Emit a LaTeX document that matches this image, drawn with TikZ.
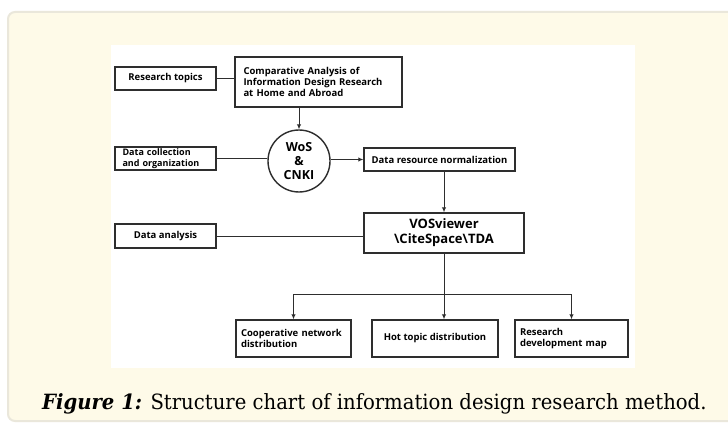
\documentclass[tikz,border=0pt]{standalone}
\usepackage{fontspec}
\usetikzlibrary{arrows.meta,shapes.geometric}
\newfontfamily\diagfont{Open Sans}
\newfontfamily\capfont{DejaVu Serif}[FakeStretch=0.935]
\definecolor{panelfill}{HTML}{FEFAE8}
\definecolor{panelrim}{HTML}{EAE7DB}
\definecolor{ink}{HTML}{2E2E2E}
\begin{document}
\begin{tikzpicture}[x=1pt,y=-1pt,
  box/.style={draw=ink,line width=1.4pt,fill=white,inner sep=0pt,
    font=\diagfont\bfseries\fontsize{9.5}{11}\selectfont,align=left},
  hub/.style={circle,draw=ink,line width=1.4pt,fill=white,minimum size=62pt,inner sep=0pt,
    font=\diagfont\bfseries\fontsize{12.5}{14}\selectfont,align=center},
  link/.style={draw=ink,line width=1pt},
  flow/.style={link,-{Latex[length=5pt,width=4.5pt]}}]
% page and panel
\useasboundingbox (0,0) rectangle (728,425);
\fill[white] (0,0) rectangle (728,425);
\draw[panelrim,fill=panelfill,line width=2pt,rounded corners=7pt] (8,12) rectangle (740,421);
\fill[white] (111,45) rectangle (635,368);
% left column
\node[box,minimum width=101pt,minimum height=23pt] (rt) at (165.5,78.5) {Research topics};
\node[box,minimum width=101pt,minimum height=23pt,text width=86pt,
  font=\diagfont\bfseries\fontsize{9}{10.5}\selectfont] (dc) at (165.5,158.5) {Data collection\\and organization};
\node[box,minimum width=101pt,minimum height=24pt] (da) at (165.5,236) {Data analysis};
% main chain
\node[box,minimum width=167pt,minimum height=50pt,text width=150pt] (cmp) at (318.5,82)
  {Comparative Analysis of\\Information Design Research\\at Home and Abroad};
\node[hub] (db) at (299,161) {WoS\\\&\\CNKI};
\node[box,minimum width=151pt,minimum height=23pt] (dr) at (439.5,159.5) {Data resource normalization};
\node[box,minimum width=160pt,minimum height=40pt,align=center,
  font=\diagfont\bfseries\fontsize{13}{15}\selectfont] (vos) at (444,233)
  {VOSviewer\\\textbackslash CiteSpace\textbackslash TDA};
% outcomes
\node[box,minimum width=115pt,minimum height=37pt,text width=105pt] (b1) at (293.5,338.5) {Cooperative network\\distribution};
\node[box,minimum width=126pt,minimum height=37pt,align=center] (b2) at (435,338.5) {Hot topic distribution};
\node[box,minimum width=113pt,minimum height=37pt,text width=103pt] (b3) at (571.5,338.5) {Research\\development map};
\coordinate (jn) at (444,294);
% connectors
\draw[link] (rt.east) -- (rt.east -| cmp.west);
\draw[flow] (cmp.south -| db.north) -- (db.north);
\draw[link] (dc.east) -- (db.west |- dc.east);
\draw[flow] (dr.west -| db.east) -- (dr.west);
\draw[flow] (dr.south -| vos.north) -- (vos.north);
\draw[link] (da.east) -- (da.east -| vos.west);
\draw[flow] (vos.south) -- (vos.south |- b2.north);
\draw[flow] (jn) -| (b1.north);
\draw[flow] (jn) -| (b3.north);
% caption
\node[anchor=base west,inner sep=0pt,font=\capfont\fontsize{21}{24}\selectfont] (cap) at (42,409)
  {\textbf{\textit{Figure 1:}} Structure chart of information design research method.};
\end{tikzpicture}
\end{document}
